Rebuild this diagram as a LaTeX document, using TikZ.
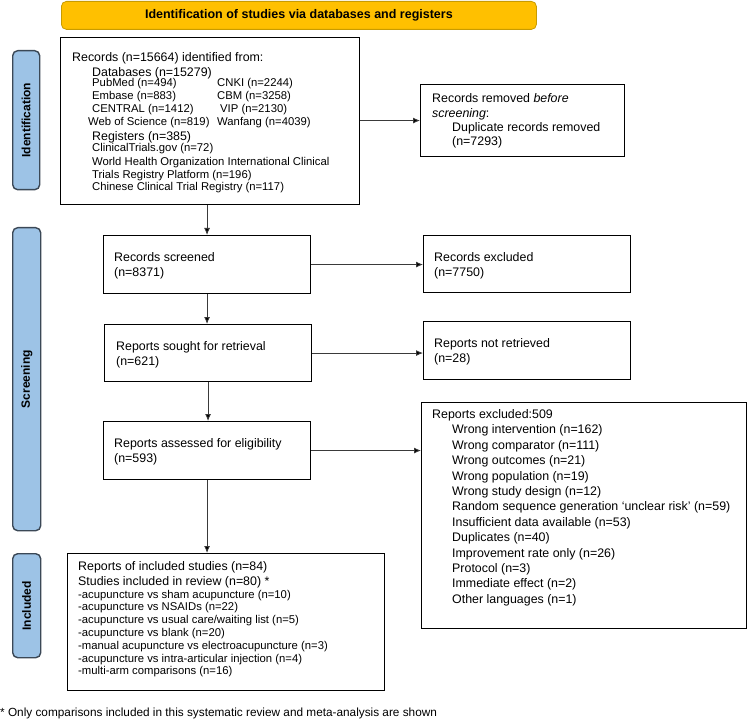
\documentclass[tikz,border=0pt]{standalone}
\usepackage{fontspec}
\setmainfont{Liberation Sans}
\usetikzlibrary{arrows.meta}
\newcommand{\fA}{\fontsize{12.4}{15}\selectfont}
\newcommand{\fB}{\fontsize{11.3}{13}\selectfont}
\newcommand{\fH}{\fontsize{12.5}{15}\selectfont\bfseries}
\definecolor{hdrfill}{HTML}{FFC000}
\definecolor{hdrdraw}{HTML}{C89B00}
\definecolor{labfill}{HTML}{9DC3E6}
\definecolor{labdraw}{HTML}{3B4856}
\definecolor{linegrey}{HTML}{3A3A3A}
\begin{document}
\begin{tikzpicture}[x=1pt,y=-1pt,
  box/.style={draw=black, line width=1.1pt, anchor=north west, inner sep=0pt},
  hdrbox/.style={draw=hdrdraw, fill=hdrfill, line width=0.8pt, rounded corners=5pt, anchor=north west, inner sep=0pt, font=\fH},
  labbox/.style={draw=labdraw, fill=labfill, line width=1.4pt, rounded corners=5pt, anchor=north west, inner sep=0pt},
  labtxt/.style={rotate=90, inner sep=0pt, font=\fontsize{12}{14}\selectfont\bfseries},
  tx/.style={anchor=base west, inner sep=0pt, font=\fA},
  ts/.style={anchor=base west, inner sep=0pt, font=\fB},
  arr/.style={draw=linegrey, line width=0.8pt, -{Latex[length=7pt,width=6pt,fill=black]}}
]
\useasboundingbox (0,0) rectangle (749,719);

% header
\node[hdrbox, minimum width=475pt, minimum height=28pt] (hdr) at (61,1) {Identification of studies via databases and registers};

% stage labels
\node[labbox, minimum width=27pt, minimum height=139pt] (lab1) at (12,50) {};
\node[labtxt] (lab1t) at (lab1.center) {Identification};
\node[labbox, minimum width=28pt, minimum height=303pt] (lab2) at (12,227) {};
\node[labtxt] (lab2t) at (lab2.center) {Screening};
\node[labbox, minimum width=28pt, minimum height=104pt] (lab3) at (12,553) {};
\node[labtxt] (lab3t) at (lab3.center) {Included};

% boxes
\node[box, minimum width=299pt, minimum height=167pt] (id) at (60,37) {};
\node[box, minimum width=204pt, minimum height=72pt] (rem) at (420,84) {};
\node[box, minimum width=207pt, minimum height=58pt] (scr) at (103,235) {};
\node[box, minimum width=207pt, minimum height=57pt] (exc1) at (423,235) {};
\node[box, minimum width=207pt, minimum height=57pt] (sought) at (104,324) {};
\node[box, minimum width=207pt, minimum height=58pt] (notret) at (423,321) {};
\node[box, minimum width=207pt, minimum height=58pt] (assess) at (103,421) {};
\node[box, minimum width=325pt, minimum height=226pt] (exc2) at (421,402) {};
\node[box, minimum width=317pt, minimum height=137pt] (incl) at (67,553) {};

% identification box text
\node[tx] (id1) at (72,61.5) {Records (n=15664) identified from:};
\node[tx] (id2) at (92,76.5) {Databases (n=15279)};
\node[ts] (id3) at (92,87) {PubMed (n=494)};
\node[ts] (id3b) at (217,87) {CNKI (n=2244)};
\node[ts] (id4) at (92,100) {Embase (n=883)};
\node[ts] (id4b) at (217,100) {CBM (n=3258)};
\node[ts] (id5) at (92,113) {CENTRAL (n=1412)};
\node[ts] (id5b) at (220,113) {VIP (n=2130)};
\node[ts] (id6) at (88,126) {Web of Science (n=819)};
\node[ts] (id6b) at (217,126) {Wanfang (n=4039)};
\node[tx] (id7) at (92,140.5) {Registers (n=385)};
\node[ts] (id8) at (92,152) {ClinicalTrials.gov (n=72)};
\node[ts] (id9) at (92,166) {World Health Organization International Clinical};
\node[ts] (id10) at (92,179) {Trials Registry Platform (n=196)};
\node[ts] (id11) at (92,191) {Chinese Clinical Trial Registry (n=117)};

% records removed
\node[tx] (rem1) at (432,102.5) {Records removed \textit{before}};
\node[tx] (rem2) at (432,117.5) {\textit{screening}:};
\node[tx] (rem3) at (452,131.5) {Duplicate records removed};
\node[tx] (rem4) at (452,145.5) {(n=7293)};

% screening boxes
\node[tx] (scr1) at (114,261.5) {Records screened};
\node[tx] (scr2) at (114,276.5) {(n=8371)};
\node[tx] (exc11) at (434,261.5) {Records excluded};
\node[tx] (exc12) at (434,276.5) {(n=7750)};
\node[tx] (sou1) at (116,350.5) {Reports sought for retrieval};
\node[tx] (sou2) at (116,365.5) {(n=621)};
\node[tx] (nr1) at (434,347.5) {Reports not retrieved};
\node[tx] (nr2) at (434,362.5) {(n=28)};
\node[tx] (as1) at (114,447.5) {Reports assessed for eligibility};
\node[tx] (as2) at (114,462.5) {(n=593)};

\node[tx] (ex0) at (432,418.5) {Reports excluded:509};
\foreach [count=\i] \t in {Wrong intervention (n=162), Wrong comparator (n=111), Wrong outcomes (n=21), Wrong population (n=19), Wrong study design (n=12), Random sequence generation ‘unclear risk’ (n=59), Insufficient data available (n=53), Duplicates (n=40), Improvement rate only (n=26), Protocol (n=3), Immediate effect (n=2), Other languages (n=1)}
  \node[tx] (ex\i) at (452,{418.5+15.4*\i}) {\t};

% included
\node[tx] (in1) at (78,570.5) {Reports of included studies (n=84)};
\node[tx] (in2) at (78,585.5) {Studies included in review (n=80) *};
\foreach [count=\i] \t in {-acupuncture vs sham acupuncture (n=10), -acupuncture vs NSAIDs (n=22), -acupuncture vs usual care/waiting list (n=5), -acupuncture vs blank (n=20), -manual acupuncture vs electroacupuncture (n=3), -acupuncture vs intra-articular injection (n=4), -multi-arm comparisons (n=16)}
  \node[ts] (inl\i) at (78,{585.2+12.8*\i}) {\t};

% footnote
\node[anchor=base west, inner sep=0pt, font=\fontsize{11.8}{14}\selectfont] (foot) at (0,716) {* Only comparisons included in this systematic review and meta-analysis are shown};

% connectors
\draw[arr] (scr.north |- id.south) -- (scr.north);
\draw[arr] (scr.south) -- (scr.south |- sought.north);
\draw[arr] (sought.south) -- (sought.south |- assess.north);
\draw[arr] (assess.south) -- (assess.south |- incl.north);
\draw[arr] (id.east |- rem.west) -- (rem.west);
\draw[arr] (scr.east) -- (scr.east -| exc1.west);
\draw[arr] (sought.east) -- (sought.east -| notret.west);
\draw[arr] (assess.east) -- (assess.east -| exc2.west);
\end{tikzpicture}
\end{document}
